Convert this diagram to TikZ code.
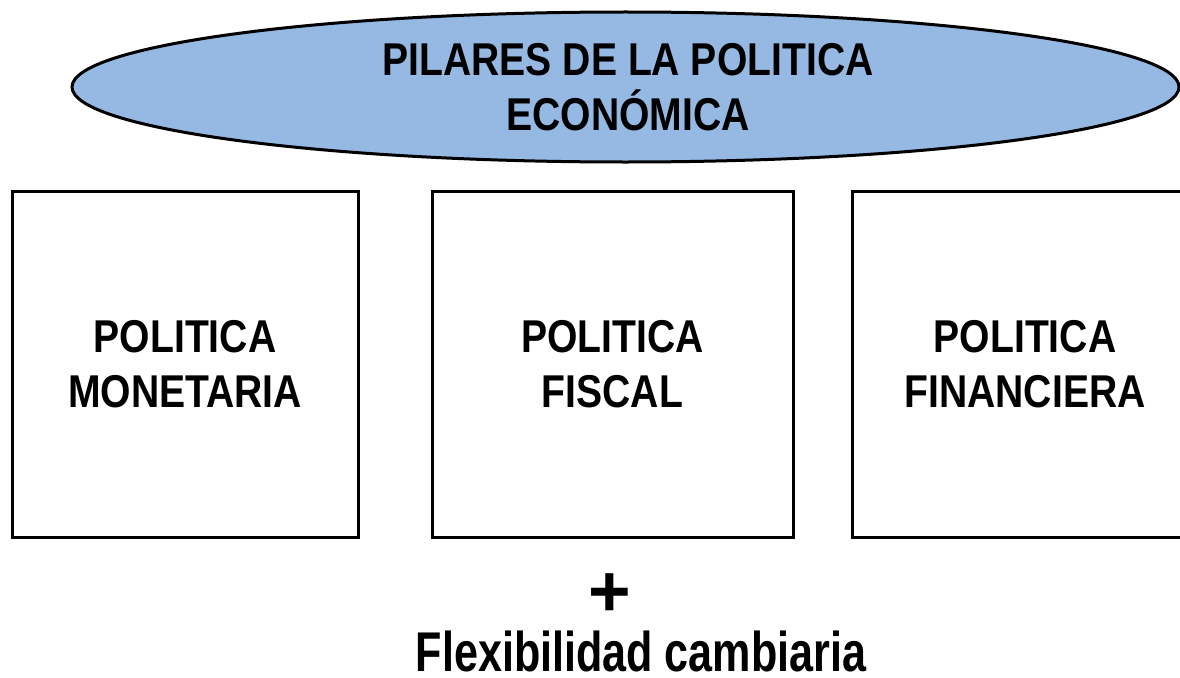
\documentclass[tikz,border=0pt]{standalone}
\usepackage{fontspec}
\setmainfont{Liberation Sans}[FakeStretch=0.85]
\newfontfamily\flexfont{Liberation Sans}[FakeStretch=0.77]
\newfontfamily\plusfont{Liberation Sans}
\usetikzlibrary{shapes.geometric}
\definecolor{pilarblue}{RGB}{149,185,227}
\tikzset{
  pillar/.style={draw=black, line width=3pt, minimum height=346pt, inner sep=0pt,
    align=center, font=\bfseries\fontsize{46}{55}\selectfont},
  titletext/.style={align=center, inner sep=0pt, font=\bfseries\fontsize{46}{55}\selectfont},
}
\begin{document}
\begin{tikzpicture}[x=1pt,y=-1pt]
\useasboundingbox (0,0) rectangle (1180,677);
\clip (0,0) rectangle (1180,677);
\node[ellipse, draw=black, line width=3pt, fill=pilarblue, minimum width=1107pt,
  minimum height=150pt, inner sep=0pt] (ell) at (625.5,87) {};
\node[titletext] (title) at (628,87) {PILARES DE LA POLITICA\\ECONÓMICA};
\node[pillar, minimum width=346pt] (mon) at (185,364) {POLITICA\\MONETARIA};
\node[pillar, minimum width=361pt] (fis) at (612.5,364) {POLITICA\\FISCAL};
\node[pillar, minimum width=346pt] (fin) at (1025,364) {POLITICA\\FINANCIERA};
\node[anchor=base, inner sep=0pt, font=\plusfont\bfseries\fontsize{73}{73}\selectfont] (plus) at (610,616) {+};
\node[anchor=base, inner sep=0pt, text depth=0pt, font=\flexfont\bfseries\fontsize{56}{60}\selectfont] (flex) at (641,671) {Flexibilidad cambiaria};
\end{tikzpicture}
\end{document}
